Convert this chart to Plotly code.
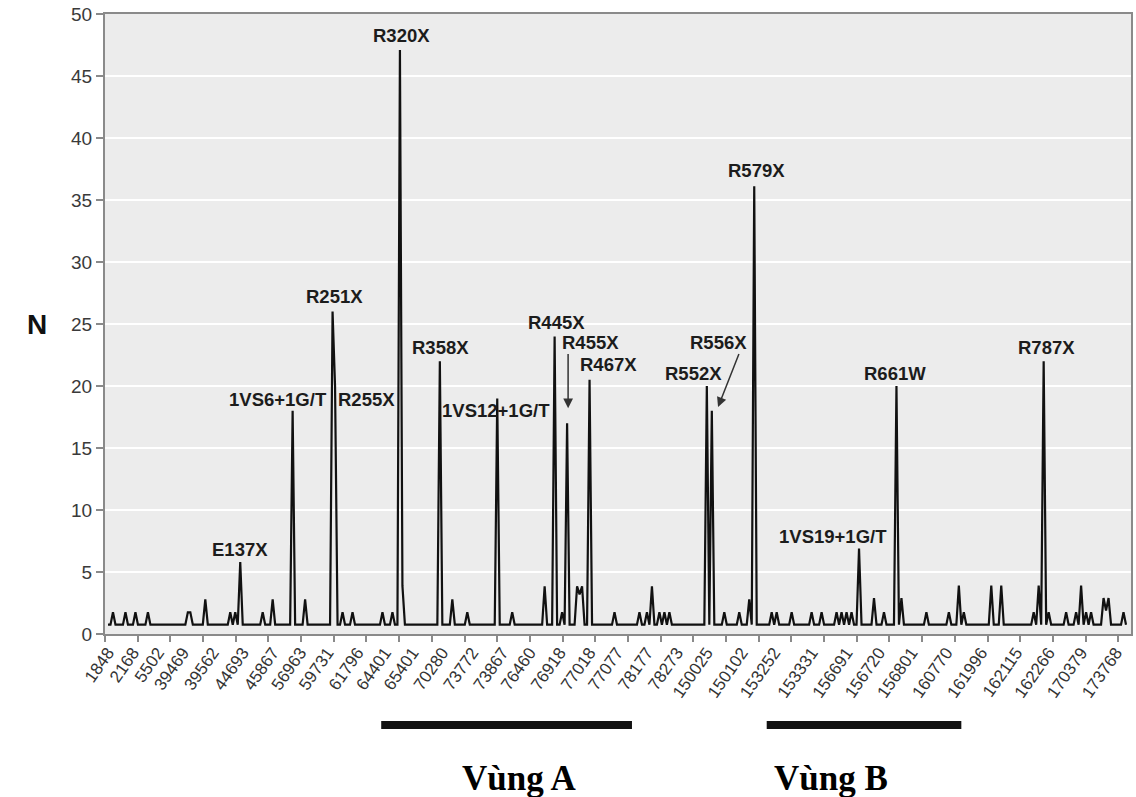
import plotly.graph_objects as go

# ---- data ----
n_points = 409
baseline = 0.75
peak_idx = [2, 7, 11, 16, 32, 33, 39, 49, 51, 53, 62, 66, 74, 79, 90, 91, 94, 98,
            110, 114, 117, 118, 133, 138, 144, 156, 162, 175, 179, 182, 184, 188,
            189, 190, 193, 203, 213, 216, 218, 221, 223, 225, 240, 242, 247, 253,
            257, 259, 266, 268, 274, 282, 286, 292, 294, 296, 298, 301, 307, 311,
            316, 318, 328, 337, 341, 343, 354, 358, 371, 373, 375, 377, 384, 388,
            390, 392, 394, 399, 400, 401, 407]
peak_val = [1.75, 1.75, 1.75, 1.75, 1.75, 1.75, 2.8, 1.75, 1.75, 5.8, 1.75, 2.8, 18, 2.8, 26, 20, 1.75, 1.75,
            1.75, 1.75, 47.1, 3.9, 22, 2.8, 1.75, 19, 1.75, 3.85, 24, 1.75, 17, 3.85,
            3.2, 3.85, 20.5, 1.75, 1.75, 1.75, 3.85, 1.75, 1.75, 1.75, 20, 18, 1.75, 1.75,
            2.8, 36.1, 1.75, 1.75, 1.75, 1.75, 1.75, 1.75, 1.75, 1.75, 1.75, 6.9, 2.9, 1.75,
            20, 2.9, 1.75, 1.75, 3.9, 1.75, 3.9, 3.9, 1.75, 3.9, 22, 1.75, 1.75, 1.75,
            3.9, 1.75, 1.75, 2.9, 1.9, 2.9, 1.75]

tick_labels = ["1848", "2168", "5502", "39469", "39562", "44693", "45867", "56963",
               "59731", "61796", "64401", "65401", "70280", "73772", "73867", "76460",
               "76918", "77018", "77077", "78177", "78273", "150025", "150102", "153252",
               "153331", "156691", "156720", "156801", "160770", "161996", "162115",
               "162266", "170379", "173768"]
label_idx = [0, 10, 20, 30, 42, 54, 66, 77, 88, 100, 111, 122, 134, 146, 158, 169,
             181, 193, 204, 216, 228, 240, 254, 267, 282, 296, 309, 322, 336, 350,
             364, 377, 390, 404]

mut_labels = ["R320X", "R579X", "R251X", "R445X", "R455X", "R556X", "R467X", "R552X",
              "R358X", "R661W", "R787X", "1VS6+1G/T", "R255X", "1VS12+1G/T",
              "1VS19+1G/T", "E137X"]
mut_x = [117.6, 260, 90.8, 179.6, 193.2, 244.8, 200.6, 234.8, 133.2, 315.6, 376,
         68, 103.8, 155.6, 290.4, 52.8]
mut_y = [48.3, 37.4, 27.2, 25.1, 23.5, 23.5, 21.7, 21.0, 23.1, 21.0, 23.1,
         18.95, 18.9, 18.0, 7.9, 6.85]

# arrows: (head x, head y, tail x, tail y)
arrows = [(184.4, 18.2, 184.4, 22.7), (244.5, 18.3, 253.1, 22.7)]

regions = ["Vùng A", "Vùng B"]
region_start = [109.5, 264]
region_end = [210, 342]
region_text_x = [164.8, 289.6]

# ---- build series ----
values = [baseline] * n_points
for i, v in zip(peak_idx, peak_val):
    values[i] = v
xs = list(range(n_points))

fig = go.Figure()
fig.add_trace(go.Scatter(x=xs, y=values, mode="lines",
                         line=dict(color="#111111", width=2.2), hoverinfo="skip",
                         showlegend=False))

ann = []
for t, x, y in zip(mut_labels, mut_x, mut_y):
    ann.append(dict(x=x, y=y, xref="x", yref="y", text="<b>%s</b>" % t, showarrow=False,
                    font=dict(family="Liberation Sans, Arial", size=18.5, color="#1c1c1c")))
for hx, hy, tx, ty in arrows:
    ann.append(dict(x=hx, y=hy, ax=tx, ay=ty, xref="x", yref="y", axref="x", ayref="y",
                    text="", showarrow=True, arrowhead=2, arrowsize=1.3, arrowwidth=1.5,
                    arrowcolor="#333333"))
for t, x in zip(regions, region_text_x):
    ann.append(dict(x=x, y=-0.267, xref="x", yref="paper", text="<b>%s</b>" % t,
                    showarrow=False,
                    font=dict(family="Liberation Serif, Times New Roman", size=35, color="#000")))
ann.append(dict(x=-0.078, y=25.0, xref="paper", yref="y", text="<b>N</b>", showarrow=False,
                font=dict(family="Liberation Sans, Arial", size=28, color="#111")))

shapes = []
for s, e in zip(region_start, region_end):
    shapes.append(dict(type="rect", xref="x", yref="paper", x0=s, x1=e,
                       y0=-0.1532, y1=-0.1403, fillcolor="#111111",
                       line=dict(width=0), layer="above"))

fig.update_layout(
    width=1136, height=797,
    margin=dict(l=105, r=3, t=14, b=163),
    paper_bgcolor="white", plot_bgcolor="#ececec",
    annotations=ann, shapes=shapes,
    xaxis=dict(range=[-1.2, 410], tickmode="array", tickvals=label_idx,
               ticktext=tick_labels, tickangle=-55, ticks="", showgrid=False,
               zeroline=False, showline=True, linecolor="#8a8a8a", linewidth=2,
               mirror=True,
               tickfont=dict(family="Liberation Sans, Arial", size=17, color="#333"),
               minor=dict(tickmode="linear", tick0=-1.2, dtick=13.1, ticks="outside",
                          ticklen=6, tickwidth=2, tickcolor="#8a8a8a", showgrid=False)),
    yaxis=dict(range=[0, 50], dtick=5, tick0=0, showgrid=True, gridcolor="white",
               gridwidth=2, zeroline=False, showline=True, linecolor="#8a8a8a",
               linewidth=2, mirror=True, ticks="outside", ticklen=7, tickwidth=2,
               tickcolor="#8a8a8a",
               tickfont=dict(family="Liberation Sans, Arial", size=19, color="#3a3a3a")),
)

fig.write_html("out.html")
